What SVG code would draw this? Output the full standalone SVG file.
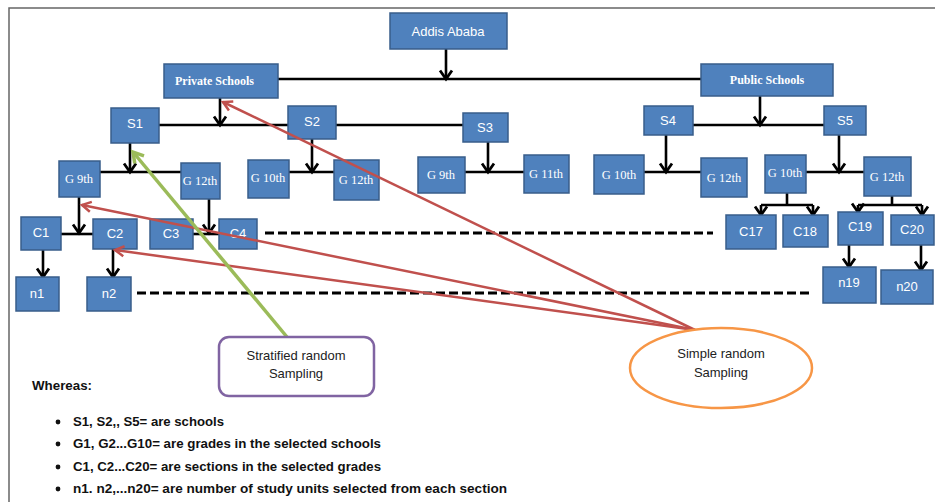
<svg xmlns="http://www.w3.org/2000/svg" width="935" height="502" viewBox="0 0 935 502">
<defs>
<marker id="ab" markerUnits="userSpaceOnUse" viewBox="-11 -8 13 16" markerWidth="13" markerHeight="16" refX="0" refY="0" orient="auto" overflow="visible">
<path d="M-8.5,-6 L0,0 L-8.5,6" fill="none" stroke="#000" stroke-width="2.8"/>
</marker>
<marker id="ar" markerUnits="userSpaceOnUse" viewBox="-11 -8 13 16" markerWidth="13" markerHeight="16" refX="0" refY="0" orient="auto" overflow="visible">
<path d="M-9,-5 L0,0 L-9,5" fill="none" stroke="#c0504d" stroke-width="2.5"/>
</marker>
<marker id="ag" markerUnits="userSpaceOnUse" viewBox="-13 -9 15 18" markerWidth="15" markerHeight="18" refX="0" refY="0" orient="auto" overflow="visible">
<path d="M-10,-6 L0,0 L-10,6" fill="none" stroke="#9bbb59" stroke-width="3.5"/>
</marker>
</defs>
<style>
.b{fill:#4f81bd;stroke:#385d8a;stroke-width:1.5}
.t{font-family:"Liberation Sans",Arial,sans-serif;font-size:13px;fill:#fff;text-anchor:middle}
.g{font-family:"Liberation Serif","Times New Roman",serif;font-size:12.5px;fill:#fff;text-anchor:middle}
.p{font-family:"Liberation Serif","Times New Roman",serif;font-size:12px;font-weight:bold;fill:#fff}
.c{fill:none;stroke:#000;stroke-width:2.6}
.ca{fill:none;stroke:#000;stroke-width:2.6;marker-end:url(#ab)}
.d{fill:none;stroke:#000;stroke-width:3;stroke-dasharray:9 4}
.r{fill:none;stroke:#c0504d;stroke-width:2.5;marker-end:url(#ar)}
.k{font-family:"Liberation Sans",Arial,sans-serif;font-size:13px;fill:#222;text-anchor:middle}
.w{font-family:"Liberation Sans",Arial,sans-serif;font-size:13px;font-weight:bold;fill:#111}
</style>
<rect width="935" height="502" fill="#fff"/>
<path d="M9,502 V8 H935" fill="none" stroke="#666" stroke-width="1.5"/>

<g id="connectors">
<path class="ca" d="M446,49 V79"/>
<path class="c" d="M278,79 H701"/>
<path class="ca" d="M220,98 V125"/>
<path class="c" d="M159,125 H463"/>
<path class="ca" d="M760,96 V125"/>
<path class="c" d="M693,125 H824"/>
<path class="ca" d="M130,143 V172"/>
<path class="c" d="M100,172 H181"/>
<path class="ca" d="M312,139 V172"/>
<path class="c" d="M289,172 H334"/>
<path class="ca" d="M488,142 V172"/>
<path class="c" d="M465,172 H524"/>
<path class="ca" d="M666,135 V172"/>
<path class="c" d="M644,172 H701"/>
<path class="ca" d="M839,135 V172"/>
<path class="c" d="M806,172 H864"/>
<path class="ca" d="M79,197 V233"/>
<path class="c" d="M61,234 H93"/>
<path class="ca" d="M209,199 V233"/>
<path class="c" d="M193,234 H219"/>
<path class="c" d="M787,193 V205 M761,205 H813"/>
<path class="ca" d="M761,205 V215"/>
<path class="ca" d="M813,205 V215"/>
<path class="c" d="M892,196 V205 M858,205 H922"/>
<path class="ca" d="M858,205 V212"/>
<path class="ca" d="M922,205 V215"/>
<path class="ca" d="M43,250 V277"/>
<path class="ca" d="M113,249 V277"/>
<path class="ca" d="M849,245 V267"/>
<path class="ca" d="M921,245 V270"/>
<path class="d" d="M265,233 H713"/>
<path class="d" d="M137,293 H810"/>
</g>

<g id="addis"><rect class="b" x="390" y="13" width="117" height="36"/><text class="t" x="448" y="36">Addis Ababa</text></g>
<g id="private"><rect class="b" x="164" y="64" width="114" height="34"/><text class="p" x="175" y="85">Private Schools</text></g>
<g id="public"><rect class="b" x="701" y="64" width="132" height="32"/><text class="p" x="767" y="84" text-anchor="middle">Public Schools</text></g>
<g id="s1"><rect class="b" x="111" y="108" width="48" height="35"/><text class="t" x="135" y="128">S1</text></g>
<g id="s2"><rect class="b" x="288" y="106" width="48" height="33"/><text class="t" x="312" y="126">S2</text></g>
<g id="s3"><rect class="b" x="463" y="113" width="45" height="29"/><text class="t" x="485" y="132">S3</text></g>
<g id="s4"><rect class="b" x="644" y="106" width="49" height="29"/><text class="t" x="668" y="125">S4</text></g>
<g id="s5"><rect class="b" x="824" y="106" width="42" height="29"/><text class="t" x="845" y="125">S5</text></g>
<g id="g9a"><rect class="b" x="59" y="161" width="41" height="36"/><text class="g" x="79" y="183">G 9th</text></g>
<g id="g12a"><rect class="b" x="181" y="163" width="39" height="36"/><text class="g" x="200" y="185">G 12th</text></g>
<g id="g10b"><rect class="b" x="248" y="160" width="41" height="38"/><text class="g" x="268" y="182">G 10th</text></g>
<g id="g12b"><rect class="b" x="334" y="160" width="45" height="40"/><text class="g" x="356" y="184">G 12th</text></g>
<g id="g9c"><rect class="b" x="418" y="157" width="47" height="36"/><text class="g" x="441" y="179">G 9th</text></g>
<g id="g11c"><rect class="b" x="524" y="155" width="45" height="38"/><text class="g" x="546" y="178">G 11th</text></g>
<g id="g10d"><rect class="b" x="594" y="155" width="50" height="39"/><text class="g" x="619" y="179">G 10th</text></g>
<g id="g12d"><rect class="b" x="701" y="158" width="46" height="39"/><text class="g" x="724" y="182">G 12th</text></g>
<g id="g10e"><rect class="b" x="765" y="155" width="41" height="38"/><text class="g" x="785" y="177">G 10th</text></g>
<g id="g12e"><rect class="b" x="864" y="157" width="47" height="39"/><text class="g" x="887" y="181">G 12th</text></g>
<g id="c1"><rect class="b" x="21" y="217" width="40" height="33"/><text class="t" x="41" y="237">C1</text></g>
<g id="c2"><rect class="b" x="93" y="219" width="44" height="30"/><text class="t" x="115" y="238">C2</text></g>
<g id="c3"><rect class="b" x="150" y="219" width="43" height="30"/><text class="t" x="171" y="238">C3</text></g>
<g id="c4"><rect class="b" x="219" y="219" width="38" height="30"/><text class="t" x="238" y="238">C4</text></g>
<g id="c17"><rect class="b" x="726" y="215" width="50" height="34"/><text class="t" x="751" y="236">C17</text></g>
<g id="c18"><rect class="b" x="783" y="215" width="45" height="32"/><text class="t" x="805" y="236">C18</text></g>
<g id="c19"><rect class="b" x="838" y="212" width="45" height="33"/><text class="t" x="860" y="231">C19</text></g>
<g id="c20"><rect class="b" x="891" y="215" width="43" height="30"/><text class="t" x="912" y="234">C20</text></g>
<g id="n1"><rect class="b" x="16" y="277" width="43" height="34"/><text class="t" x="37" y="298">n1</text></g>
<g id="n2"><rect class="b" x="87" y="277" width="44" height="34"/><text class="t" x="109" y="298">n2</text></g>
<g id="n19"><rect class="b" x="823" y="267" width="53" height="36"/><text class="t" x="849" y="287">n19</text></g>
<g id="n20"><rect class="b" x="881" y="270" width="52" height="34"/><text class="t" x="907" y="291">n20</text></g>

<g id="sampling-arrows">
<path class="r" d="M695,330 L223,102"/>
<path class="r" d="M695,330 L82,205"/>
<path class="r" d="M695,330 L115,250"/>
<path d="M287,337 L133,152" fill="none" stroke="#9bbb59" stroke-width="3.5" marker-end="url(#ag)"/>
</g>

<g id="stratified"><rect x="219" y="337" width="155" height="59" rx="10" fill="#fff" stroke="#8064a2" stroke-width="2.5"/>
<text class="k" x="296" y="360">Stratified random</text><text class="k" x="296" y="378">Sampling</text></g>
<g id="simple"><ellipse cx="721" cy="368" rx="91" ry="40" fill="#fff" stroke="#f79646" stroke-width="2.5"/>
<text class="k" x="721" y="358">Simple random</text><text class="k" x="721" y="377">Sampling</text></g>

<g id="legend">
<text class="w" x="32" y="390" textLength="60" lengthAdjust="spacingAndGlyphs">Whereas:</text>
<circle cx="58" cy="422" r="2.4" fill="#111"/>
<circle cx="58" cy="444" r="2.4" fill="#111"/>
<circle cx="58" cy="467" r="2.4" fill="#111"/>
<circle cx="58" cy="489" r="2.4" fill="#111"/>
<text class="w" x="73" y="426" textLength="151" lengthAdjust="spacingAndGlyphs">S1, S2,, S5= are schools</text>
<text class="w" x="73" y="448" textLength="308" lengthAdjust="spacingAndGlyphs">G1, G2...G10=  are grades in the selected schools</text>
<text class="w" x="73" y="471" textLength="308" lengthAdjust="spacingAndGlyphs">C1, C2...C20= are sections in the selected grades</text>
<text class="w" x="73" y="493" textLength="434" lengthAdjust="spacingAndGlyphs">n1. n2,...n20= are number of study units selected from each section</text>
</g>
</svg>
